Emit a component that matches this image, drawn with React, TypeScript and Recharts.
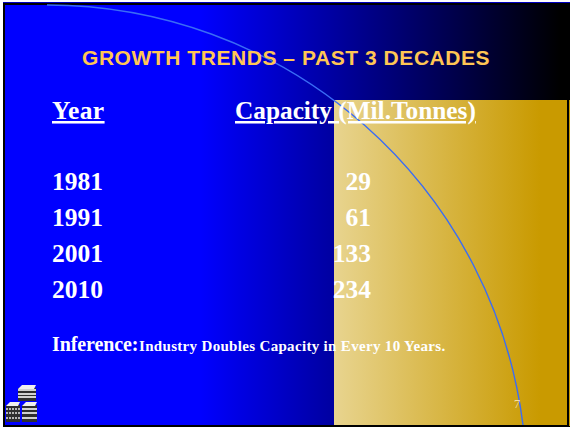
import React from "react";
import { ScatterChart, Scatter, XAxis, YAxis } from "recharts";

const years = ["1981", "1991", "2001", "2010"];
const capacities = [29, 61, 133, 234];

const title = "GROWTH TRENDS – PAST 3 DECADES";
const yearHeader = "Year";
const capacityHeader = "Capacity (Mil.Tonnes)";
const inferenceLead = "Inference:";
const inferenceText = "Industry Doubles Capacity in Every 10 Years.";
const pageNumber = "7";

const rows = years.map((year, i) => ({
  year,
  capacity: capacities[i],
  column: "capacity",
}));

const SERIF = "'Liberation Serif', 'Times New Roman', serif";
const SANS = "'Liberation Sans', Arial, sans-serif";
const WHITE = "#ffffff";

const YearTick = (props: any) => (
  <text x={52} y={props.y + 8} fontFamily={SERIF} fontSize={25.5} fontWeight={700} fill={WHITE}>
    {props.payload.value}
  </text>
);

// values are right aligned on the column centre
const CapacityCell = (props: any) => (
  <text
    x={props.cx}
    y={props.cy + 8}
    textAnchor="end"
    fontFamily={SERIF}
    fontSize={25.5}
    fontWeight={700}
    fill={WHITE}
  >
    {props.payload.capacity}
  </text>
);

// one box of the small stack in the bottom corner: pale lid, banded grey front
const Box = ({ x, y, w, h, textured }: { x: number; y: number; w: number; h: number; textured?: boolean }) => (
  <g>
    <rect x={x} y={y + 3} width={w} height={h - 3} fill="#2e2e2e" />
    <polygon points={`${x},${y + 4} ${x + 4},${y} ${x + w},${y} ${x + w - 2},${y + 4}`} fill="#efefef" />
    {[0.34, 0.56, 0.78].map((band) => (
      <line
        key={band}
        x1={x}
        x2={x + w}
        y1={y + Math.round(h * band)}
        y2={y + Math.round(h * band)}
        stroke={textured ? "#b5b5b5" : "#d0d0d0"}
        strokeWidth={2}
        strokeDasharray={textured ? "2 1" : undefined}
      />
    ))}
  </g>
);

const SlideBackground = () => (
  <svg width={571} height={430} style={{ position: "absolute", left: 0, top: 0 }}>
    <defs>
      <linearGradient id="blueFade" gradientUnits="userSpaceOnUse" x1={200} y1={0} x2={560} y2={0}>
        <stop offset="0" stopColor="#0000ff" />
        <stop offset="1" stopColor="#000000" />
      </linearGradient>
      <linearGradient id="goldFade" gradientUnits="userSpaceOnUse" x1={334} y1={0} x2={540} y2={0}>
        <stop offset="0" stopColor="#e8d48f" />
        <stop offset="1" stopColor="#c99a00" />
      </linearGradient>
    </defs>
    <rect x={3} y={2} width={567} height={1} fill="#0000c0" />
    <rect x={3} y={3} width={567} height={424} fill="#000000" />
    <rect x={5} y={5} width={565} height={420} fill="url(#blueFade)" />
    <rect x={334} y={100} width={233} height={325} fill="url(#goldFade)" />
    <rect x={567} y={100} width={2} height={327} fill="#000000" />
    <rect x={569} y={100} width={1} height={326} fill="#c99a00" />
    <path d="M47 5 A480 480 0 0 1 523 425" fill="none" stroke="#3a6cf5" strokeWidth={1.4} />
    <Box x={18} y={385} w={18} h={16} />
    <Box x={6} y={402} w={14} h={20} textured />
    <Box x={22} y={402} w={15} h={20} />
    <text x={82} y={65} fontFamily={SANS} fontSize={21} fontWeight={700} letterSpacing={0.55} fill="#ffc654">
      {title}
    </text>
    <text x={52} y={119} fontFamily={SERIF} fontSize={25.5} fontWeight={700} letterSpacing={0.4} fill={WHITE} textDecoration="underline">
      {yearHeader}
    </text>
    <text x={235} y={119} fontFamily={SERIF} fontSize={25.3} fontWeight={700} fill={WHITE} textDecoration="underline">
      {capacityHeader}
    </text>
    <text x={52} y={351} fontFamily={SERIF} fontSize={20} fontWeight={700} letterSpacing={-0.1} fill={WHITE}>
      {inferenceLead}
    </text>
    <text x={139} y={351} fontFamily={SERIF} fontSize={15} fontWeight={700} letterSpacing={0.32} fill={WHITE}>
      {inferenceText}
    </text>
    <text x={514} y={408} fontFamily={SERIF} fontSize={12} fill="#f3dfa0">
      {pageNumber}
    </text>
  </svg>
);

export default function App() {
  return (
    <div style={{ position: "absolute", left: 0, top: 0, width: 571, height: 430, background: "#fff" }}>
      <SlideBackground />
      <div style={{ position: "absolute", left: 0, top: 0 }}>
        <ScatterChart
          width={571}
          height={430}
          data={rows}
          margin={{ top: 164, right: 0, bottom: 122, left: 51 }}
        >
          <XAxis dataKey="column" type="category" hide allowDuplicatedCategory={false} />
          <YAxis
            dataKey="year"
            type="category"
            width={120}
            reversed
            axisLine={false}
            tickLine={false}
            tick={<YearTick />}
            allowDuplicatedCategory={false}
          />
          <Scatter data={rows} isAnimationActive={false} shape={<CapacityCell />} />
        </ScatterChart>
      </div>
    </div>
  );
}
